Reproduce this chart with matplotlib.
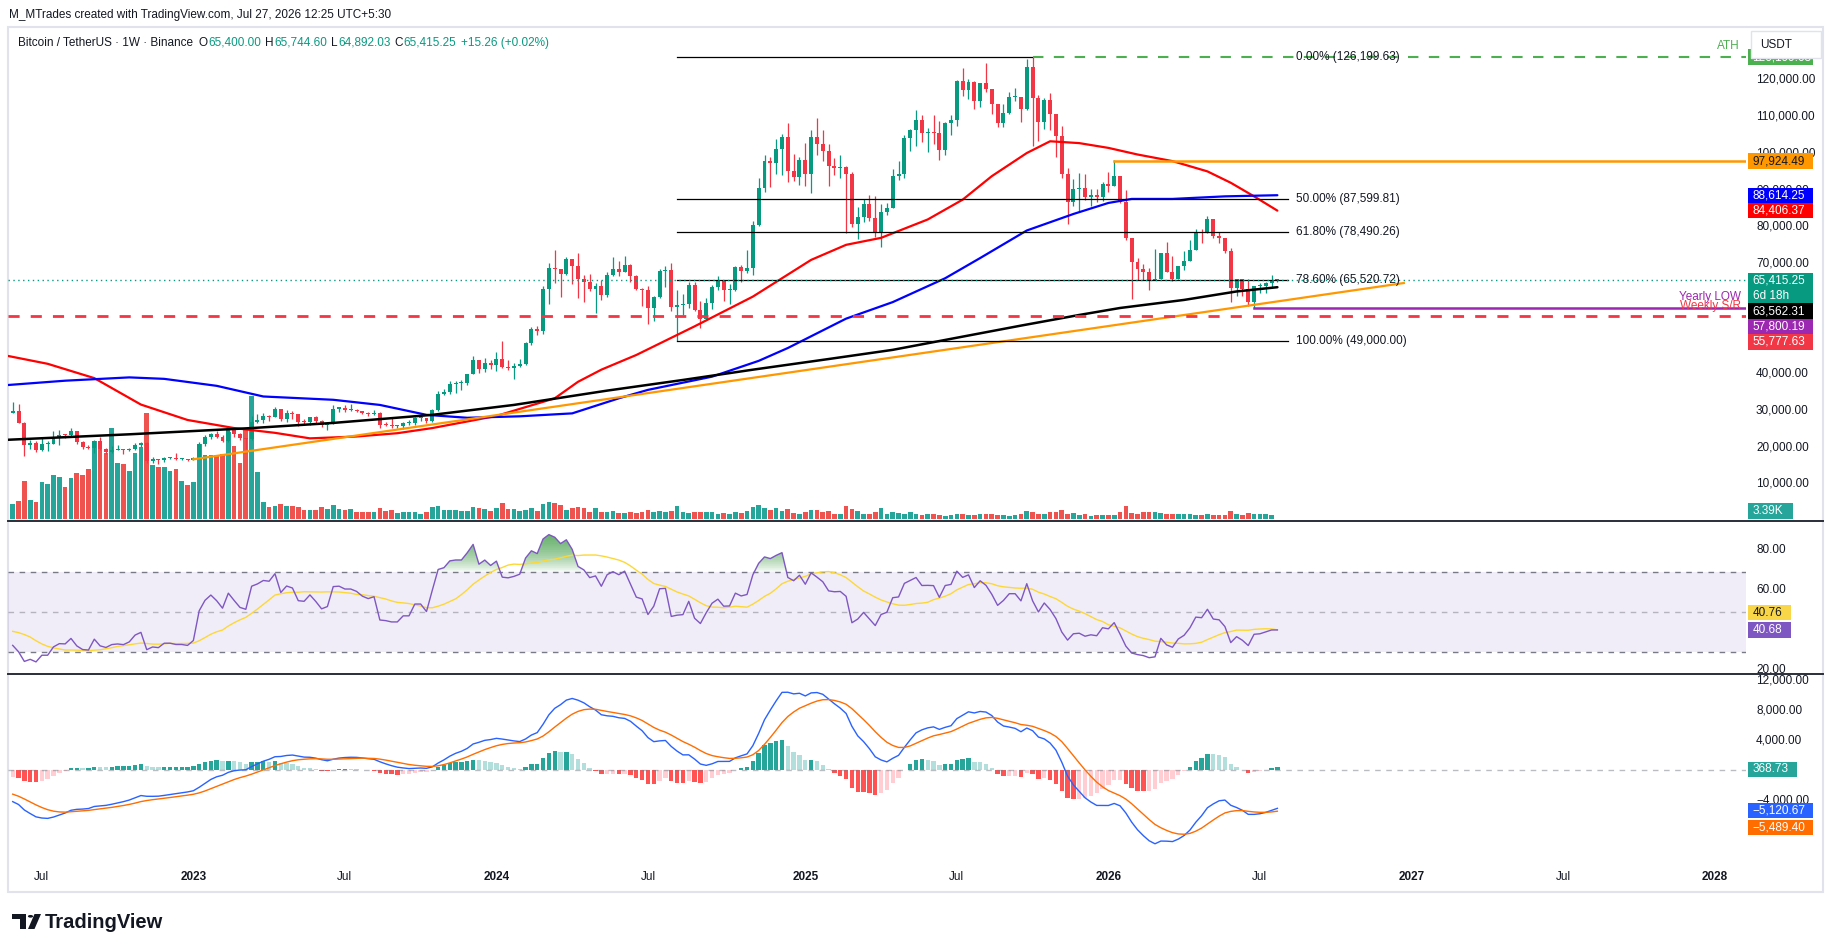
#------------------------------------------------
# BTC/USDT weekly chart (Binance) - price, volume, RSI, MACD
#------------------------------------------------
import numpy as np
import pandas as pd
import matplotlib.pyplot as plt
from matplotlib.patches import Rectangle, Circle, Polygon
from matplotlib.lines import Line2D

plt.rcParams['font.family'] = ['Liberation Sans', 'DejaVu Sans']

#------------------------------------------------
# Data: weekly candles, thousands of USDT, first bar = week of 2022-05-30
#------------------------------------------------
start = pd.Timestamp('2022-05-30')

# closes before the visible window (2021-05-03 .. 2022-05-23), used to warm up RSI / MACD
pre_close = [58.2, 46.4, 34.7, 35.7, 35.8, 39.1, 35.6, 34.7, 35.3, 34.3, 31.8, 35.4, 39.9,
             43.8, 47.0, 49.3, 48.8, 51.8, 46.0, 47.3, 43.2, 48.2, 54.7, 61.5, 60.9, 61.3,
             63.3, 65.5, 58.6, 57.3, 49.4, 50.1, 46.7, 50.8, 47.3, 41.9, 43.1, 36.3, 37.9,
             42.4, 42.2, 38.4, 37.7, 38.4, 37.8, 41.3, 46.8, 46.4, 42.2, 39.7, 39.4, 38.5,
             34.0, 31.3, 30.3, 29.4]

close_22 = [29.9, 26.6, 20.5, 21.0, 19.3, 20.8, 20.8, 22.6, 23.3, 23.2, 24.3, 21.5, 20.0, 19.8,
            21.8, 19.4, 18.8, 19.3, 19.4, 19.2, 19.6, 20.6, 21.0, 16.3, 16.7, 16.5, 17.1, 17.1,
            16.8, 16.8, 16.6]
high_22 = [32.4, 31.7, 26.9, 21.9, 21.6, 22.5, 21.6, 24.3, 24.7, 23.6, 25.2, 24.4, 21.8, 20.6,
           21.9, 22.8, 19.7, 20.4, 20.5, 19.5, 19.7, 21.1, 21.5, 21.5, 17.2, 16.9, 17.4, 17.4,
           18.4, 17.0, 16.9]
low_22 = [29.3, 26.5, 17.6, 19.6, 18.6, 19.0, 18.9, 20.8, 20.7, 22.4, 22.7, 20.8, 19.5, 19.5,
          18.5, 19.3, 18.1, 18.5, 19.2, 18.2, 18.9, 19.2, 20.1, 15.6, 15.8, 15.4, 16.0, 16.9,
          16.5, 16.6, 16.3]

close_23 = [17.1, 20.9, 22.7, 23.7, 22.9, 21.8, 24.6, 23.5, 22.4, 22.1, 26.9, 27.5, 28.4,
            28.3, 30.3, 27.6, 29.2, 28.9, 26.9, 26.8, 28.1, 27.1, 25.9, 26.3, 30.5, 30.6,
            30.2, 30.2, 29.9, 29.3, 29.0, 29.3, 26.1, 26.0, 25.8, 25.8, 26.5, 26.5, 27.9,
            27.9, 27.1, 30.0, 34.5, 35.0, 37.1, 37.4, 37.4, 39.9, 43.8, 41.4, 43.0, 42.3]
high_23 = [17.2, 21.3, 23.3, 23.9, 24.3, 23.2, 25.3, 25.2, 23.9, 22.6, 28.4, 28.9, 29.2,
           28.8, 31.0, 30.5, 30.0, 29.8, 29.0, 27.6, 28.2, 28.5, 27.4, 26.8, 31.4, 31.0,
           31.5, 31.8, 30.4, 29.9, 29.7, 30.2, 29.7, 26.8, 28.1, 26.1, 26.9, 27.5, 28.1,
           28.6, 28.0, 30.4, 35.3, 35.9, 38.0, 37.9, 38.4, 40.0, 44.7, 43.4, 44.4, 43.8]
low_23 = [16.5, 17.2, 20.4, 22.3, 22.6, 21.4, 21.5, 22.7, 21.9, 19.6, 21.9, 26.6, 26.5,
          27.2, 28.2, 27.0, 26.9, 27.7, 25.8, 26.4, 26.1, 26.5, 25.4, 24.8, 26.3, 29.5,
          29.7, 29.9, 29.5, 28.9, 28.6, 28.7, 25.2, 25.8, 25.3, 25.3, 24.9, 26.1, 26.0,
          27.2, 26.5, 26.9, 29.8, 34.1, 34.5, 34.8, 35.6, 36.9, 39.9, 40.2, 40.5, 41.4]

close_24 = [43.9, 41.7, 41.6, 42.0, 42.6, 48.3, 52.1, 51.7, 63.1, 68.9, 68.4, 67.2, 71.3,
            69.4, 65.7, 64.9, 63.1, 63.9, 61.5, 66.9, 68.5, 67.8, 69.6, 66.6, 63.2, 62.7,
            58.0, 60.8, 68.0, 68.2, 58.2, 58.7, 58.9, 64.2, 57.3, 54.8, 59.2, 63.6, 65.6,
            62.8, 62.9, 69.0, 68.0, 68.7, 80.4, 90.6, 97.9, 97.3, 101.1, 104.5, 95.1, 93.7, 98.3]
high_24 = [45.9, 49.0, 43.6, 42.8, 43.9, 48.6, 52.8, 52.9, 64.0, 70.1, 73.8, 68.1, 71.8,
           71.3, 72.8, 66.9, 67.2, 64.7, 65.5, 67.7, 71.9, 70.6, 72.0, 70.0, 66.9, 63.4,
           63.8, 61.2, 68.4, 69.4, 70.1, 62.7, 61.8, 65.0, 64.9, 59.8, 60.6, 64.1, 66.5,
           65.0, 64.5, 69.4, 69.5, 73.6, 81.5, 93.4, 99.6, 98.9, 104.0, 105.2, 108.4, 99.9, 99.0]
low_24 = [40.8, 41.5, 41.1, 38.6, 41.9, 42.3, 47.7, 50.6, 50.9, 59.0, 64.6, 60.8, 66.8,
          64.5, 60.6, 59.6, 62.4, 56.5, 60.2, 60.8, 66.6, 66.7, 68.5, 65.0, 62.7, 58.4,
          53.5, 54.3, 60.6, 63.5, 57.2, 49.0, 56.1, 57.8, 57.2, 52.5, 54.6, 57.5, 62.7,
          59.8, 58.9, 62.6, 65.1, 67.5, 66.8, 80.2, 89.4, 90.8, 94.5, 94.2, 92.2, 92.5, 91.5]

close_25 = [94.5, 104.5, 102.6, 100.6, 96.5, 96.1, 96.3, 94.3, 80.7, 82.6, 86.1, 82.4, 78.4,
            84.0, 85.2, 93.8, 94.3, 104.1, 106.5, 109.0, 105.6, 105.7, 105.6, 100.9, 108.4,
            109.2, 119.8, 117.3, 119.4, 114.2, 119.3, 117.4, 113.5, 108.2, 111.1, 115.3,
            115.3, 112.2, 123.5, 115.1, 108.6, 114.5, 110.6, 104.7, 94.3, 86.7, 90.3, 90.6,
            88.1, 88.8, 88.1, 91.8]
high_25 = [102.7, 106.4, 109.6, 106.5, 102.5, 98.8, 99.5, 96.5, 95.0, 85.3, 87.5, 88.8, 88.5,
           86.1, 86.4, 95.8, 97.9, 104.9, 106.7, 111.9, 110.4, 106.8, 110.5, 108.9, 108.6,
           110.5, 119.9, 123.2, 120.2, 119.8, 119.3, 124.5, 117.6, 113.5, 113.4, 116.8,
           117.9, 115.0, 125.7, 126.2, 115.9, 115.0, 116.4, 110.8, 107.5, 96.1, 93.0, 94.7,
           94.4, 90.3, 90.3, 92.1]
low_25 = [91.2, 89.3, 99.5, 97.8, 91.2, 94.1, 93.3, 78.3, 80.0, 76.6, 81.2, 81.6, 77.2,
          74.5, 83.2, 85.1, 92.8, 93.4, 100.7, 102.0, 103.1, 100.4, 102.6, 98.2, 99.6,
          105.1, 107.5, 115.7, 114.7, 112.0, 112.6, 116.8, 110.6, 107.3, 107.3, 110.6,
          114.4, 108.6, 111.7, 102.0, 103.5, 106.7, 106.3, 98.9, 93.3, 80.8, 85.6, 84.2,
          87.4, 85.6, 86.7, 86.9]

close_26 = [91.1, 93.9, 86.7, 77.0, 70.3, 68.6, 67.6, 65.5, 65.8, 72.9, 67.8, 65.9, 69.2,
            70.7, 73.8, 78.6, 78.3, 82.2, 77.4, 77.0, 73.5, 63.3, 65.7, 63.2, 59.4, 63.8,
            64.0, 64.7, 65.4, 65.41525]
high_26 = [94.9, 98.1, 93.9, 90.0, 77.0, 71.5, 69.9, 68.8, 73.9, 72.9, 76.0, 72.1, 69.4,
           73.3, 76.5, 79.4, 79.4, 82.9, 82.2, 78.6, 77.0, 74.2, 65.7, 65.7, 65.9, 64.0,
           64.7, 65.1, 66.9, 65.7446]
low_26 = [89.5, 91.1, 86.5, 76.5, 60.3, 65.6, 65.6, 62.7, 65.5, 65.8, 67.8, 65.2, 65.9,
          68.3, 70.6, 73.8, 75.6, 78.3, 76.9, 75.6, 72.9, 59.5, 61.1, 61.1, 58.4, 57.8,
          62.0, 62.0, 63.3, 64.89203]

# weekly volume, thousands of BTC
vol_a = [368, 440, 920, 464, 416, 896, 848, 1064, 1016, 776,
         992, 1112, 1064, 1208, 1880, 1880, 1592, 2192, 1352, 1328,
         1160, 1592, 1736, 2552, 1304, 1256, 1256, 1160, 1208, 920,
         824, 896, 1808, 1544, 1544, 1544, 1568, 2096, 1760, 1352,
         2144, 2960, 1136, 416, 296, 320, 368, 320, 328, 296,
         224, 224, 224, 296, 248, 344, 248, 224, 248, 176,
         168, 176, 176, 272, 200, 224, 152, 176, 176, 176,
         128, 176, 296, 320, 224, 224, 224, 200, 200, 296,
         264, 248, 200, 272, 392, 248, 248, 200, 224, 272,
         200, 368, 416, 392, 344, 224, 272, 296, 272, 176,
         272, 176, 176, 200]
vol_b = [152, 152, 176, 152, 176, 224, 176, 200, 176, 200,
         320, 176, 152, 176, 176, 176, 176, 128, 152, 128,
         176, 152, 200, 296, 344, 272, 224, 272, 200, 248,
         152, 128, 176, 224, 224, 176, 200, 128, 128, 320,
         248, 200, 128, 128, 176, 272, 128, 176, 152, 128,
         176, 128, 104, 128, 128, 104, 80, 104, 128, 128,
         104, 104, 128, 128, 128, 104, 104, 80, 104, 128,
         200, 176, 128, 128, 176, 176, 224, 128, 152, 104,
         128, 80, 104, 104, 104, 104, 176, 320, 152, 128,
         176, 176, 176, 152, 128, 128, 128, 128, 128, 104, 104,
         128, 104, 104, 104, 200, 128, 104, 152, 128, 128, 128, 104,
         3.39]

# moving averages (week index, thousands)
red_w = [-1, 6, 14, 22, 30, 38, 45, 51, 59, 66, 72, 83, 93, 97, 101, 107, 117, 127, 137,
         143, 149, 157, 163, 168, 174, 178, 183, 188, 193, 199, 205, 209, 213, 217]
red_v = [44.9, 42.7, 38.8, 31.6, 27.4, 25.2, 23.9, 22.4, 22.9, 23.8, 25.2, 28.5, 33.3, 37.8,
         41.1, 45.1, 52.9, 61.0, 71.0, 75.1, 77.0, 82.0, 87.4, 93.8, 100.1, 103.3, 102.8,
         101.5, 99.7, 97.9, 95.1, 92.0, 88.3, 84.41]
blue_w = [-1, 9, 20, 26, 35, 43, 55, 63, 71, 78, 87, 96, 104, 109, 120, 128, 133, 143, 151,
          160, 166, 174, 182, 188, 192, 199, 208, 217]
blue_v = [36.9, 38.1, 39.0, 38.6, 36.7, 33.8, 32.9, 31.5, 28.8, 28.0, 28.4, 29.2, 33.3, 35.6,
          39.2, 43.5, 47.0, 55.0, 59.5, 66.0, 71.5, 79.0, 83.5, 86.5, 87.6, 87.6, 88.3, 88.61]
black_w = [-1, 20, 41, 55, 72, 86, 102, 115, 127, 140, 151, 162, 173, 183, 190, 201, 210, 217]
black_v = [22.0, 23.5, 25.2, 26.6, 28.8, 31.5, 35.4, 38.3, 41.1, 44.0, 46.5, 49.8, 53.1, 56.0,
           57.9, 60.1, 62.4, 63.56]

# drawings
trend_w = [31, 238.7]
trend_v = [16.7, 64.7]
fib_levels = [126.19963, 87.59981, 78.49026, 65.52072, 49.0]
fib_labels = ['0.00% (126,199.63)', '50.00% (87,599.81)', '61.80% (78,490.26)',
              '78.60% (65,520.72)', '100.00% (49,000.00)']
ath = 126.19963
range_high = 97.92449
yearly_low = 57.80019
weekly_sr = 55.77763
last_price = 65.41525

#------------------------------------------------
# Assemble candles and indicators
#------------------------------------------------
close = np.array(close_22 + close_23 + close_24 + close_25 + close_26)
high = np.array(high_22 + high_23 + high_24 + high_25 + high_26)
low = np.array(low_22 + low_23 + low_24 + low_25 + low_26)
open_ = np.r_[pre_close[-1], close[:-1]]
high = np.maximum(high, np.maximum(open_, close))
low = np.minimum(low, np.minimum(open_, close))
vol = np.array(vol_a + vol_b)
wk = np.arange(len(close))
up = close >= open_


def rma(x, n):
    out = np.full(len(x), np.nan)
    out[n - 1] = x[:n].mean()
    for i in range(n, len(x)):
        out[i] = (out[i - 1] * (n - 1) + x[i]) / n
    return out


def ema(x, n):
    a = 2.0 / (n + 1)
    out = np.empty(len(x))
    out[0] = x[0]
    for i in range(1, len(x)):
        out[i] = a * x[i] + (1 - a) * out[i - 1]
    return out


all_close = np.r_[pre_close, close] * 1000.0
chg = np.diff(all_close)
gain = rma(np.clip(chg, 0, None), 14)
loss = rma(np.clip(-chg, 0, None), 14)
rsi_all = np.r_[np.nan, 100 - 100 / (1 + gain / loss)]
rsi_ma_all = pd.Series(rsi_all).rolling(14).mean().to_numpy()
macd_all = ema(all_close, 12) - ema(all_close, 26)
sig_all = ema(macd_all, 9)
n0 = len(pre_close)
rsi, rsi_ma = rsi_all[n0:], rsi_ma_all[n0:]
macd, sig = macd_all[n0:], sig_all[n0:]
hist = macd - sig
hist_prev = (macd_all - sig_all)[n0 - 1:-1]

#------------------------------------------------
# Figure layout (pixel geometry of the screenshot)
#------------------------------------------------
W, H = 1835, 951
X0, X1 = 8.3, 1746.0
BAR0, STEP = 12.7, 5.828
WL, WR = (X0 - BAR0) / STEP, (X1 - BAR0) / STEP
TXT = '#131722'
FS = 8.5

fig = plt.figure(figsize=(W / 100, H / 100), dpi=100)
fig.patch.set_facecolor('white')


def fx(x):
    return x / W


def fy(y):
    return 1 - y / H


def pane(y0, y1, z=1):
    ax = fig.add_axes([fx(X0), fy(y1), fx(X1) - fx(X0), fy(y0) - fy(y1)], zorder=z)
    ax.set_xlim(WL, WR)
    ax.axis('off')
    return ax


def ypix(ax, v):
    return H - ax.transData.transform((0, v))[1]


def ftext(x, y, s, **kw):
    kw.setdefault('fontsize', FS)
    kw.setdefault('color', TXT)
    kw.setdefault('va', 'center')
    return fig.text(fx(x), fy(y), s, **kw)


def badge(yc, s, bg, fg='white', x1=1813.3, h=15.4, sub=None):
    hh = h * 2 if sub else h
    fig.add_artist(Rectangle((fx(1748.3), fy(yc - h / 2 + hh)), fx(x1) - fx(1748.3), hh / H,
                             transform=fig.transFigure, facecolor=bg, edgecolor='none', zorder=5))
    ftext(1752.5, yc, s, color=fg, zorder=6)
    if sub:
        ftext(1752.5, yc + h, sub, color=fg, zorder=6)


ax_v = pane(27, 521, z=1)
ax_p = pane(27, 521, z=2)
ax_r = pane(521, 674)
ax_m = pane(674, 864)
ax_p.set_ylim(-0.109, 134.42)
ax_v.set_ylim(-41, 11815)
ax_r.set_ylim(18.85, 95.35)
ax_m.set_ylim(-12533, 12800)

#------------------------------------------------
# Price pane
#------------------------------------------------
ax_v.bar(wk, vol, width=0.8, color=np.where(up, '#26a69a', '#ef5350'), lw=0)

ccol = np.where(up, '#089981', '#F23645')
ax_p.vlines(wk, low, high, colors=ccol, lw=0.9, zorder=3)
ax_p.bar(wk, np.maximum(np.abs(close - open_), 0.3), bottom=np.minimum(open_, close),
         width=0.68, color=ccol, lw=0, zorder=4)

ax_p.plot(red_w, red_v, color='#FF0000', lw=1.6, zorder=5, solid_capstyle='round')
ax_p.plot(blue_w, blue_v, color='#0000FF', lw=1.6, zorder=5, solid_capstyle='round')
ax_p.plot(black_w, black_v, color='#000000', lw=1.8, zorder=5, solid_capstyle='round')
ax_p.plot(trend_w, trend_v, color='#FF9800', lw=1.6, zorder=5)

# fib retracement
fib_start, fib_end, ath_w = 114, 218.9, 175
for lev, lab in zip(fib_levels, fib_labels):
    ax_p.plot([fib_start, ath_w if lev == ath else fib_end], [lev, lev], color='#000000',
              lw=0.9, zorder=6)
    ax_p.text((1296 - BAR0) / STEP, lev, lab, fontsize=FS, color=TXT, va='center',
              ha='left', zorder=7)

ax_p.plot([ath_w, WR], [ath, ath], color='#4CAF50', lw=1.5, ls=(0, (5, 5)), zorder=6)
ax_p.plot([189, WR], [range_high, range_high], color='#FF9800', lw=1.8, zorder=6)
ax_p.plot([213, WR], [yearly_low, yearly_low], color='#9C27B0', lw=1.8, zorder=6)
ax_p.plot([WL, WR], [weekly_sr, weekly_sr], color='#F23645', lw=2.0, ls=(0, (4, 4)), zorder=6)
ax_p.plot([WL, WR], [last_price, last_price], color='#089981', lw=1.0, ls=(0, (1, 2.5)),
          zorder=6)

ftext(1740, 46, 'ATH', color='#4CAF50', ha='right', zorder=7)
ftext(1741, 297, 'Yearly LOW', color='#9C27B0', ha='right', zorder=7)
ftext(1741, 306.5, 'Weekly S/R', color='#F23645', ha='right', zorder=7)

#------------------------------------------------
# RSI pane
#------------------------------------------------
ax_r.axhspan(30, 70, color='#7E57C2', alpha=0.1, lw=0)
for lev, a in ((70, 1.0), (50, 0.5), (30, 1.0)):
    ax_r.axhline(lev, color='#787B86', alpha=a, lw=1.0, ls=(0, (4, 4)))
for t in np.arange(70, 92, 1.0):
    ax_r.fill_between(wk, t, rsi, where=rsi > t, interpolate=True, color='#43A047',
                      alpha=0.07, lw=0)
ax_r.plot(wk, rsi_ma, color='#FDD835', lw=1.0)
ax_r.plot(wk, rsi, color='#7E57C2', lw=1.0)

#------------------------------------------------
# MACD pane
#------------------------------------------------
hcol = np.where(hist >= 0, np.where(hist > hist_prev, '#26A69A', '#B2DFDB'),
                np.where(hist > hist_prev, '#FFCDD2', '#FF5252'))
ax_m.axhline(0, color='#787B86', alpha=0.5, lw=1.0, ls=(0, (4, 4)))
ax_m.bar(wk, hist, width=0.75, color=hcol, lw=0)
ax_m.plot(wk, macd, color='#2962FF', lw=1.0)
ax_m.plot(wk, sig, color='#FF6D00', lw=1.0)

#------------------------------------------------
# Right scale labels (the ones fully hidden by badges are left out) and badges
#------------------------------------------------
for v in (10, 20, 30, 40, 70, 80, 90, 100, 110, 120):
    ftext(1756, ypix(ax_p, v), f'{v * 1000:,.2f}')
for v in (80, 60, 20):
    ftext(1756, ypix(ax_r, v) - 1.5, f'{v:.2f}')
for v in (12000, 8000, 4000, -4000):
    ftext(1756, ypix(ax_m, v), f'{v:,.2f}'.replace('-', '\u2212'))

badge(ypix(ax_p, ath), '126,199.63', '#4CAF50')
fig.add_artist(Rectangle((fx(1750.7), fy(58)), fx(1820.7) - fx(1750.7), 26.5 / H,
                         transform=fig.transFigure, facecolor='white', edgecolor='#e0e3eb',
                         lw=1.0, zorder=7))
ftext(1760, 44.5, 'USDT', zorder=8)

badge(ypix(ax_p, range_high), '97,924.49', '#FF9800', fg=TXT)
badge(ypix(ax_p, 88.61425), '88,614.25', '#0000FF')
badge(ypix(ax_p, 84.40637), '84,406.37', '#FF0000')
badge(ypix(ax_p, last_price), '65,415.25', '#089981', sub='6d 18h')
badge(311.0, '63,562.31', '#000000')
badge(326.3, '57,800.19', '#9C27B0')
badge(342.0, '55,777.63', '#F23645')
badge(511.0, '3.39K', '#26A69A', x1=1793)

badge(612.7, '40.76', '#F9D648', fg=TXT, x1=1791)
badge(630.0, '40.68', '#7E57C2', x1=1791)
badge(769.3, '368.73', '#26A69A', x1=1797)
badge(810.7, '\u22125,120.67', '#2962FF')
badge(827.3, '\u22125,489.40', '#FF6D00')

#------------------------------------------------
# Time axis
#------------------------------------------------
tick_months = ['2022-07', '2023-01', '2023-07', '2024-01', '2024-07', '2025-01', '2025-07',
               '2026-01', '2026-07', '2027-01', '2027-07', '2028-01']
for m in tick_months:
    d0 = pd.Timestamp(m + '-01')
    monday = d0 + pd.Timedelta(days=(7 - d0.weekday()) % 7)
    w = (monday - start).days / 7
    lab = 'Jul' if d0.month == 7 else str(d0.year)
    ftext(BAR0 + STEP * w, 877, lab, ha='center',
          fontweight='bold' if d0.month == 1 else 'normal')

#------------------------------------------------
# Frame, separators, header, legend, logo
#------------------------------------------------
fig.add_artist(Rectangle((fx(8), fy(892)), fx(1823) - fx(8), 865 / H, transform=fig.transFigure,
                         facecolor='none', edgecolor='#e0e3eb', lw=1.5, zorder=1))
for yy in (521, 674):
    fig.add_artist(Line2D([fx(8), fx(1823)], [fy(yy), fy(yy)], color='#2a2e39', lw=1.4,
                          zorder=8))

ftext(8.9, 15, 'M_MTrades created with TradingView.com, Jul 27, 2026 12:25 UTC+5:30', fontsize=8.5)

# legend pieces laid out one after another
legend = [('Bitcoin / TetherUS \u00b7 1W \u00b7 Binance', TXT, 6),
          ('O', TXT, 0.5), ('65,400.00', '#089981', 4),
          ('H', TXT, 0.5), ('65,744.60', '#089981', 4),
          ('L', TXT, 0.5), ('64,892.03', '#089981', 4),
          ('C', TXT, 0.5), ('65,415.25', '#089981', 5),
          ('+15.26 (+0.02%)', '#089981', 0)]
renderer = fig.canvas.get_renderer()
x = 17.9
for s, c, gap in legend:
    t = ftext(x, 42.7, s, color=c, fontsize=8.5)
    x += t.get_window_extent(renderer).width + gap

# TradingView logo
for (x0, y0, x1, y1) in ((12, 914, 26, 918.5), (19.5, 918.5, 26, 929)):
    fig.add_artist(Rectangle((fx(x0), fy(y1)), fx(x1) - fx(x0), (y1 - y0) / H,
                             transform=fig.transFigure, facecolor=TXT, edgecolor='none'))
fig.add_artist(Circle((fx(30.5), fy(916.3)), 2.6 / W, transform=fig.transFigure, facecolor=TXT,
                      edgecolor='none'))
fig.add_artist(Polygon([(fx(28), fy(929)), (fx(34.5), fy(914)), (fx(41), fy(914)),
                        (fx(34.5), fy(929))], closed=True, transform=fig.transFigure,
                       facecolor=TXT, edgecolor='none'))
ftext(45, 922, 'TradingView', fontsize=14.5, fontweight='bold')

fig.savefig('out.png', dpi=100)
